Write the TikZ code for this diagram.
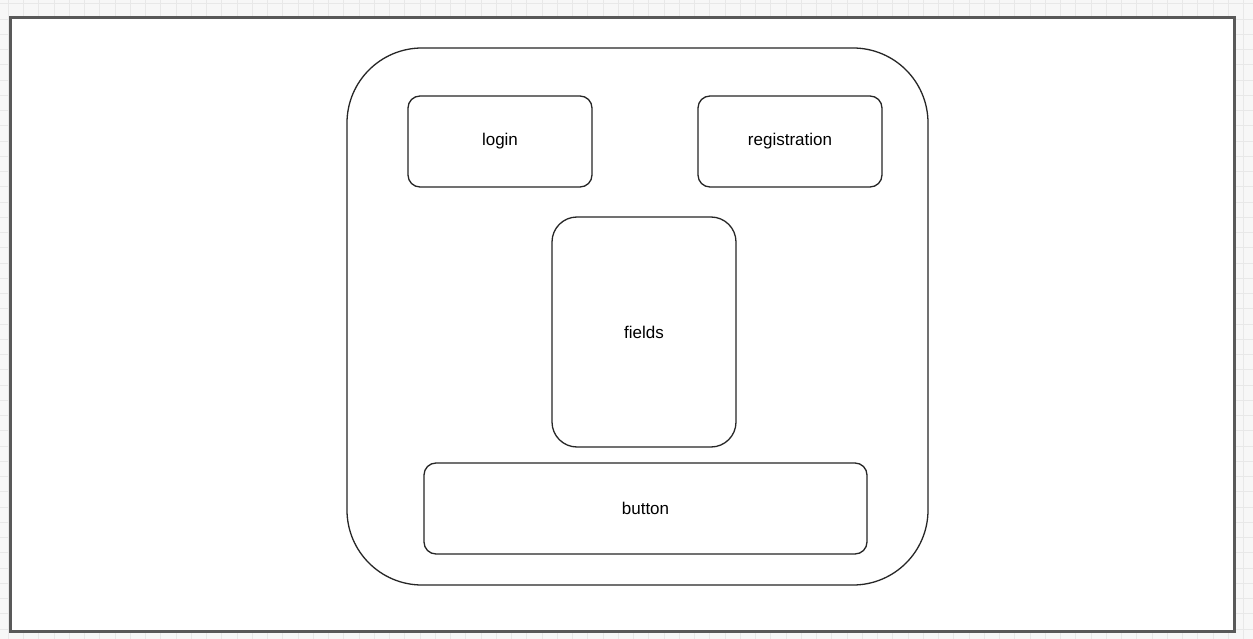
\documentclass[tikz,border=0pt]{standalone}
\usepackage{fontspec}
\setmainfont{Liberation Sans}
\begin{document}
\begin{tikzpicture}[x=1pt,y=-1pt,
  gridline/.style={draw=black!9,line width=0.8},
  frame/.style={draw=black!65,line width=3,fill=white},
  panel/.style={draw=black!85,line width=1.3,rounded corners=#1,inner sep=0pt},
  label/.style={font=\fontsize{17}{20}\selectfont,text=black}]
\useasboundingbox (0,0) rectangle (1253,639);
% background grid of the canvas
\fill[black!3] (0,0) rectangle (1253,639);
\foreach \i in {0,...,82} {\draw[gridline] ({8.3+15.25*\i},0) -- ({8.3+15.25*\i},639);}
\foreach \j in {0,...,42} {\draw[gridline] (0,{3.75+15.25*\j}) -- (1253,{3.75+15.25*\j});}
% page frame
\draw[frame] (10,18) rectangle (1234,631);
% outer screen container
\node[panel=75pt,minimum width=581pt,minimum height=537pt] (screen) at (637.5,316.5) {};
% inner blocks
\node[panel=12pt,minimum width=184pt,minimum height=91pt,label] (login) at (500,141.5) {login};
\node[panel=12pt,minimum width=184pt,minimum height=91pt,label] (registration) at (790,141.5) {registration};
\node[panel=25pt,minimum width=184pt,minimum height=230pt,label] (fields) at (644,332) {fields};
\node[panel=12pt,minimum width=443pt,minimum height=91pt,label] (button) at (645.5,508.5) {button};
\end{tikzpicture}
\end{document}
